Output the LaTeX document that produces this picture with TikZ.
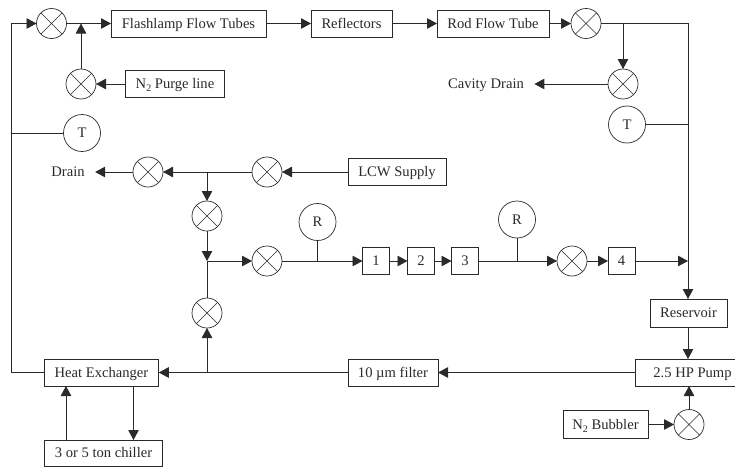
\documentclass[tikz,border=0pt]{standalone}
\usepackage{fontspec}
\setmainfont{Liberation Serif}
\usetikzlibrary{arrows.meta}
\definecolor{ink}{HTML}{2A2A2A}
\tikzset{
  x=1pt,y=-1pt,
  every node/.style={text=ink,font=\fontsize{14.6pt}{17pt}\selectfont,inner sep=0pt,outer sep=0pt,text height=11.5pt,text depth=1.9pt},
  pipe/.style={draw=ink,line width=0.9pt},
  flow/.style={pipe,-{Triangle[length=10pt,width=10.5pt]}},
  boxnode/.style={draw=ink,line width=0.9pt,minimum height=27pt},
  sq/.style={boxnode,minimum width=27pt},
  valve/.style={circle,draw=ink,line width=0.7pt,minimum size=30pt,
    path picture={
      \draw[ink,line width=0.5pt] (path picture bounding box.south west)--(path picture bounding box.north east)
        (path picture bounding box.north west)--(path picture bounding box.south east);}},
  gauge/.style={circle,draw=ink,line width=0.7pt,minimum size=37pt},
  tag/.style={inner xsep=10.5pt}
}
\newcommand{\subtwo}{\raisebox{-3pt}{\fontsize{10pt}{12pt}\selectfont 2}}
\begin{document}
\begin{tikzpicture}
\useasboundingbox (0,0) rectangle (735,466);
% top row
\node[valve] (v1) at (51.5,23.5) {};
\node[boxnode,minimum width=155pt] (flash) at (188.5,23.5) {Flashlamp Flow Tubes};
\node[boxnode,minimum width=81pt] (refl) at (351.5,23.5) {Reflectors};
\node[boxnode,minimum width=112pt] (rod) at (493,23.5) {Rod Flow Tube};
\node[valve] (v2) at (586,23.5) {};
% purge
\node[valve] (v3) at (81,84) {};
\node[boxnode,minimum width=99pt] (purge) at (175,84) {N\subtwo\ Purge line};
\node[valve] (v4) at (623,84) {};
\node[tag] (cavity) at (486,84) {Cavity Drain};
% temperature
\node[gauge] (t1) at (82,133) {T};
\node[gauge] (t2) at (627,124.5) {T};
% drain row
\node[tag] (drain) at (68,172) {Drain};
\node[valve] (v9) at (148,172) {};
\node[valve] (v8) at (267,172) {};
\node[boxnode,minimum width=98pt] (lcw) at (397,172) {LCW Supply};
\node[valve] (v10) at (207,216) {};
\node[valve] (v12) at (207,313) {};
% middle row
\node[valve] (v6) at (267,261) {};
\node[gauge] (r1) at (317.5,222) {R};
\node[sq] (b1) at (376,261) {1};
\node[sq] (b2) at (421,261) {2};
\node[sq] (b3) at (465,261) {3};
\node[gauge] (r2) at (517,219.5) {R};
\node[valve] (v7) at (572,261) {};
\node[sq] (b4) at (621.5,261) {4};
% right column and bottom
\node[boxnode,minimum width=77pt,minimum height=28pt] (res) at (688.5,313) {Reservoir};
\node[boxnode,minimum width=100pt] (pump) at (685,372.5) {\hspace*{15pt}2.5 HP Pump};
\node[boxnode,minimum width=90pt] (filter) at (393,372.5) {10 µm filter};
\node[boxnode,minimum width=114.5pt] (hx) at (101.5,372.5) {Heat Exchanger};
\node[boxnode,minimum width=118pt,minimum height=26pt] (chiller) at (103.5,453) {3 or 5 ton chiller};
\node[boxnode,minimum width=85pt,minimum height=28pt] (bubbler) at (605.5,424.5) {N\subtwo\ Bubbler};
\node[valve] (v11) at (689,424.5) {};
% junctions
\coordinate (cTL) at (11,23.5);
\coordinate (cBL) at (11,372.5);
\coordinate (jT1) at (11,133);
\coordinate (jV3) at (81,23.5);
\coordinate (jV4) at (623,23.5);
\coordinate (cTR) at (688,23.5);
\coordinate (jT2) at (688,124.5);
\coordinate (j4) at (688,261);
\coordinate (jD) at (207,172);
\coordinate (jM) at (207,261);
\coordinate (jB) at (207,372.5);
\coordinate (jR1) at (317.5,261);
\coordinate (jR2) at (517,261);
\coordinate (hxA) at (66,386);
\coordinate (hxB) at (133.5,386);
\coordinate (chA) at (66,440);
\coordinate (chB) at (133.5,440);
% connectors
\draw[flow] (hx) -- (cBL) -- (cTL) -- (v1);
\draw[pipe] (t1) -- (jT1);
\draw[pipe] (v1) -- (jV3);
\draw[flow] (jV3) -- (flash);
\draw[flow] (v3) -- (jV3);
\draw[flow] (purge) -- (v3);
\draw[flow] (flash) -- (refl);
\draw[flow] (refl) -- (rod);
\draw[flow] (rod) -- (v2);
\draw[flow] (v2) -- (cTR) -- (res.north -| cTR);
\draw[flow] (jV4) -- (v4);
\draw[flow] (v4) -- (cavity);
\draw[pipe] (t2) -- (jT2);
\draw[flow] (lcw) -- (v8);
\draw[flow] (v8) -- (v9);
\draw[flow] (v9) -- (drain);
\draw[flow] (jD) -- (v10);
\draw[flow] (v10) -- (jM);
\draw[flow] (jM) -- (v6);
\draw[pipe] (v12) -- (jM);
\draw[flow] (jB) -- (v12);
\draw[flow] (v6) -- (b1);
\draw[pipe] (r1) -- (jR1);
\draw[flow] (b1) -- (b2);
\draw[flow] (b2) -- (b3);
\draw[flow] (b3) -- (v7);
\draw[pipe] (r2) -- (jR2);
\draw[flow] (v7) -- (b4);
\draw[flow] (b4) -- (j4);
\draw[flow] (res.south -| cTR) -- (pump.north -| cTR);
\draw[flow] (pump) -- (filter);
\draw[flow] (filter) -- (hx);
\draw[flow] (bubbler) -- (v11);
\draw[flow] (v11.north) -- (v11.north |- pump.south);
\draw[flow] (chA) -- (hxA);
\draw[flow] (hxB) -- (chB);
\end{tikzpicture}
\end{document}
